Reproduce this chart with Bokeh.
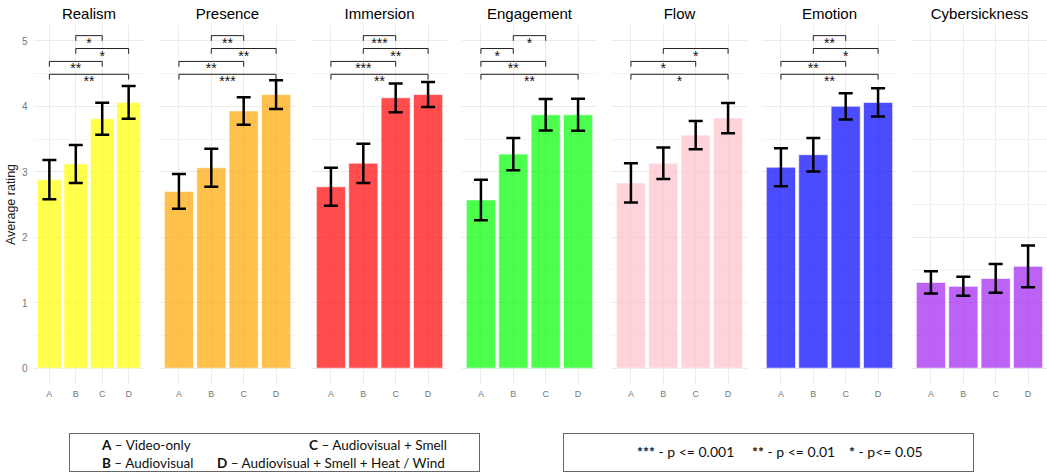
from bokeh.plotting import figure
from bokeh.models import Range1d, FixedTicker, Whisker, TeeHead, ColumnDataSource, Div, Spacer
from bokeh.layouts import row, column
from bokeh.embed import file_html
from bokeh.resources import INLINE
from bokeh.core.properties import value

# ---------------- data ----------------
conditions = ["A", "B", "C", "D"]
measures = ["Realism", "Presence", "Immersion", "Engagement", "Flow", "Emotion", "Cybersickness"]

realism_mean = [2.88, 3.12, 3.81, 4.06]
realism_err = [0.30, 0.29, 0.245, 0.25]
presence_mean = [2.70, 3.06, 3.93, 4.18]
presence_err = [0.265, 0.29, 0.21, 0.22]
immersion_mean = [2.77, 3.13, 4.13, 4.18]
immersion_err = [0.29, 0.30, 0.22, 0.19]
engagement_mean = [2.57, 3.27, 3.87, 3.87]
engagement_err = [0.31, 0.245, 0.24, 0.245]
flow_mean = [2.83, 3.13, 3.56, 3.82]
flow_err = [0.30, 0.24, 0.215, 0.23]
emotion_mean = [3.07, 3.26, 4.00, 4.06]
emotion_err = [0.29, 0.255, 0.20, 0.215]
cyber_mean = [1.31, 1.25, 1.37, 1.555]
cyber_err = [0.17, 0.145, 0.22, 0.32]

# significance comparisons: (group 1, group 2, stars, bracket tier from top)
realism_sig = [("B", "C", "*", 0), ("B", "D", "*", 1), ("A", "C", "**", 2), ("A", "D", "**", 3)]
presence_sig = [("B", "C", "**", 0), ("B", "D", "**", 1), ("A", "C", "**", 2), ("A", "D", "***", 3)]
immersion_sig = [("B", "C", "***", 0), ("B", "D", "**", 1), ("A", "C", "***", 2), ("A", "D", "**", 3)]
engagement_sig = [("B", "C", "*", 0), ("A", "B", "*", 1), ("A", "C", "**", 2), ("A", "D", "**", 3)]
flow_sig = [("B", "D", "*", 1), ("A", "C", "*", 2), ("A", "D", "*", 3)]
emotion_sig = [("B", "C", "**", 0), ("B", "D", "*", 1), ("A", "C", "**", 2), ("A", "D", "**", 3)]
cyber_sig = []

# ---------------- style ----------------
colors = ["#FFFF00", "#FFA500", "#FF0000", "#00FF00", "#FFC0CB", "#0000FF", "#A020F0"]
FONT = "Liberation Sans"
GRID = "#EBEBEB"

means = [realism_mean, presence_mean, immersion_mean, engagement_mean, flow_mean, emotion_mean, cyber_mean]
errs = [realism_err, presence_err, immersion_err, engagement_err, flow_err, emotion_err, cyber_err]
sigs = [realism_sig, presence_sig, immersion_sig, engagement_sig, flow_sig, emotion_sig, cyber_sig]

frame_lefts = [32, 158, 310, 460, 610, 760, 910]
frame_widths = [111, 136, 136, 136, 136, 136, 136]

xs = list(range(1, len(conditions) + 1))
pos = {c: i for c, i in zip(conditions, xs)}


def make_panel(k):
    prev_right = 8 if k == 0 else frame_lefts[k - 1] + frame_widths[k - 1]
    show_y = k == 0
    p = figure(frame_width=frame_widths[k], frame_height=360,
               x_range=Range1d(0.4, 4.6), y_range=Range1d(-0.25, 5.25),
               output_backend="svg", toolbar_location=None,
               min_border_left=frame_lefts[k] - prev_right, min_border_right=0,
               min_border_top=21, min_border_bottom=16,
               y_axis_location="left" if show_y else None,
               title=measures[k])
    p.outline_line_color = None
    p.background_fill_color = "white"
    p.border_fill_color = "white"
    p.title.align = "center"
    p.title.text_font = FONT
    p.title.text_font_size = "15px"
    p.title.text_font_style = "normal"
    p.title.text_color = "black"
    p.title.standoff = 5

    xt = FixedTicker(ticks=xs)
    p.xaxis.ticker = xt
    p.xaxis.major_label_overrides = {i: c for c, i in pos.items()}
    p.xaxis.axis_line_color = None
    p.xaxis.major_tick_line_color = None
    p.xaxis.minor_tick_line_color = None
    p.xaxis.major_tick_out = 0
    p.xaxis.major_tick_in = 0
    p.xaxis.major_label_standoff = 4
    p.xaxis.major_label_text_font = FONT
    p.xaxis.major_label_text_font_size = "9px"
    p.xaxis.major_label_text_color = "#777777"

    p.xgrid.ticker = xt
    p.xgrid.grid_line_color = GRID
    p.xgrid.grid_line_width = 1
    p.ygrid.ticker = FixedTicker(ticks=[0, 1, 2, 3, 4, 5], minor_ticks=[0.5, 1.5, 2.5, 3.5, 4.5])
    p.ygrid.grid_line_color = GRID
    p.ygrid.grid_line_width = 1
    p.ygrid.minor_grid_line_color = "#F3F3F3"
    p.ygrid.minor_grid_line_width = 1

    if show_y:
        p.yaxis.ticker = FixedTicker(ticks=[0, 1, 2, 3, 4, 5])
        p.yaxis.axis_line_color = None
        p.yaxis.major_tick_line_color = None
        p.yaxis.minor_tick_line_color = None
        p.yaxis.major_tick_out = 0
        p.yaxis.major_tick_in = 0
        p.yaxis.major_label_standoff = 6
        p.yaxis.major_label_text_font = FONT
        p.yaxis.major_label_text_font_size = "10px"
        p.yaxis.major_label_text_color = "#777777"
        p.yaxis.axis_label = "Average rating"
        p.yaxis.axis_label_text_font = FONT
        p.yaxis.axis_label_text_font_size = "12.5px"
        p.yaxis.axis_label_text_font_style = "normal"
        p.yaxis.axis_label_text_color = "#222222"
        p.yaxis.axis_label_standoff = 1

    m = means[k]
    e = errs[k]
    src = ColumnDataSource(dict(x=xs, top=m,
                                upper=[a + b for a, b in zip(m, e)],
                                lower=[a - b for a, b in zip(m, e)]))
    p.vbar(x="x", top="top", width=0.9, source=src, fill_color=colors[k], fill_alpha=0.7,
           line_color="white", line_alpha=0.6, line_width=1)
    w = Whisker(base="x", upper="upper", lower="lower", source=src, level="overlay",
                line_color="black", line_width=2.5,
                upper_head=TeeHead(size=14, line_width=2.5, line_color="black"),
                lower_head=TeeHead(size=14, line_width=2.5, line_color="black"))
    p.add_layout(w)

    if sigs[k]:
        bx, by, tx, ty, tt = [], [], [], [], []
        for g1, g2, lab, tier in sigs[k]:
            lvl = 5.08 - 0.197 * tier
            x1, x2 = pos[g1], pos[g2]
            bx.append([x1, x1, x2, x2])
            by.append([lvl - 0.08, lvl, lvl, lvl - 0.08])
            tx.append((x1 + x2) / 2)
            ty.append(lvl)
            tt.append(lab)
        p.multi_line(xs=bx, ys=by, line_color="#222222", line_width=1)
        p.text(x=tx, y=ty, text=tt, text_align="center", text_baseline="alphabetic",
               y_offset=7, text_font=value(FONT), text_font_size="14px", text_color="#111111")
    return p


panels = [make_panel(k) for k in range(len(measures))]

legend1_html = (
    '<div style="position:relative;width:409px;height:37px;font-family:Lato;font-size:13.5px;color:#111;white-space:nowrap;">'
    '<span style="position:absolute;left:32px;top:2px;"><b>A</b> &ndash; Video-only</span>'
    '<span style="position:absolute;left:239px;top:2px;"><b>C</b> &ndash; Audiovisual + Smell</span>'
    '<span style="position:absolute;left:32px;top:20px;"><b>B</b> &ndash; Audiovisual</span>'
    '<span style="position:absolute;left:147px;top:20px;"><b>D</b> &ndash; Audiovisual + Smell + Heat / Wind</span>'
    '</div>'
)
legend2_html = (
    '<div style="position:relative;width:409px;height:37px;font-family:Lato;font-size:14px;color:#111;white-space:nowrap;">'
    '<span style="position:absolute;left:73px;top:8px;"><b>***</b> - p &lt;= 0.001</span>'
    '<span style="position:absolute;left:188px;top:8px;"><b>**</b> - p &lt;= 0.01</span>'
    '<span style="position:absolute;left:285px;top:8px;"><b>*</b> - p&lt;= 0.05</span>'
    '</div>'
)
box_style = {"border": "1px solid #666666", "box-sizing": "border-box", "background": "white"}
div1 = Div(text=legend1_html, width=411, height=39, styles=box_style)
div2 = Div(text=legend2_html, width=411, height=39, styles=box_style)

layout = column(
    row(*panels),
    Spacer(height=27),
    row(Spacer(width=64), div1, Spacer(width=73), div2),
)

open("out.html", "w").write(file_html(layout, INLINE))
